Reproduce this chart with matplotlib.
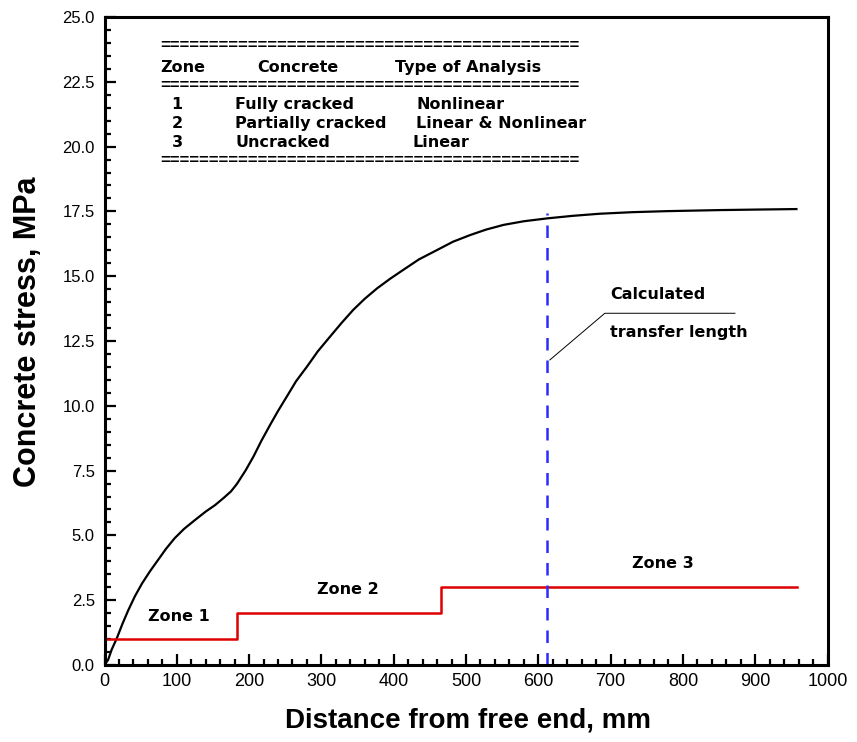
import matplotlib
matplotlib.use("Agg")
import matplotlib.pyplot as plt
from matplotlib.ticker import MultipleLocator, FormatStrFormatter

# Concrete stress along the member (mm, MPa)
dist_mm = [0, 5, 10, 17, 25, 33, 42, 52, 63, 74, 85, 97, 110, 125, 140,
           153, 165, 175, 183,
           195, 206, 217, 229, 240, 252, 265, 280, 295, 312, 328, 344, 360,
           377, 395, 413, 435, 460, 482, 506, 528, 552, 580, 612, 648, 685,
           730, 778, 850, 900, 957]
stress_mpa = [0.0, 0.2, 0.6, 1.03, 1.6, 2.12, 2.65, 3.15, 3.62, 4.05, 4.48,
              4.89, 5.25, 5.59, 5.92, 6.17, 6.45, 6.7, 6.98,
              7.5, 8.04, 8.65, 9.26, 9.8, 10.35, 10.95, 11.51, 12.1, 12.67,
              13.2, 13.70, 14.13, 14.53, 14.9, 15.24, 15.65, 16.01, 16.33,
              16.59, 16.8, 16.98, 17.12, 17.23, 17.33, 17.41, 17.47, 17.51,
              17.55, 17.57, 17.59]

# Zone boundaries and zone levels
zone_edges = [0, 183, 466, 958]
zone_levels = [1.0, 2.0, 3.0]
zone_names = ["Zone 1", "Zone 2", "Zone 3"]
zone_label_x = [103, 337, 772]
zone_label_y = [1.86, 2.93, 3.92]

transfer_length = 612

table_header = ["Zone", "Concrete", "Type of Analysis"]
table_rows = [("1", "Fully cracked", "Nonlinear"),
              ("2", "Partially cracked", "Linear & Nonlinear"),
              ("3", "Uncracked", "Linear")]

plt.rcParams["font.family"] = ["Liberation Sans", "DejaVu Sans"]

W, H = 857, 742
fig = plt.figure(figsize=(W / 100, H / 100), dpi=100)
ax = fig.add_axes([104.5 / W, 1 - 665 / H, 723 / W, 648 / H])

ax.plot(dist_mm, stress_mpa, color="black", lw=1.6, solid_joinstyle="round")

# Stepped zone levels
sx, sy = [], []
for i, lvl in enumerate(zone_levels):
    sx += [zone_edges[i], zone_edges[i + 1]]
    sy += [lvl, lvl]
ax.plot(sx, sy, color="#dd0000", lw=1.8)

ax.plot([transfer_length, transfer_length], [0, 17.45], color="#2b2bff",
        lw=1.8, dashes=(5, 4))

note_font = dict(family="DejaVu Sans", fontweight="bold", fontsize=11.5)
for name, x, y in zip(zone_names, zone_label_x, zone_label_y):
    ax.text(x, y, name, ha="center", va="center", **note_font)

# Leader for the transfer length note
ax.plot([616, 692, 872], [11.77, 13.57, 13.57], color="black", lw=0.7)
ax.text(699, 14.31, "Calculated", ha="left", va="center", **note_font)
ax.text(699, 12.81, "transfer length", ha="left", va="center", **note_font)

# Zone summary table, placed in figure pixels (baseline) from the top-left
def ftext(xp, yp, s, ha="left", **kw):
    fig.text(xp / W, 1 - yp / H, s, ha=ha, va="baseline", **kw)

tab_font = dict(family="DejaVu Sans", fontweight="bold", fontsize=11.5)
rule = "=" * 43
for yp in (50, 90, 165):
    ftext(160, yp, rule, family="Liberation Sans", fontweight="bold",
          fontsize=12)
for xp, s in zip((160, 257, 395), table_header):
    ftext(xp, 72, s, **tab_font)
row_y = [109, 128, 147]
for (a, b, c), yp in zip(table_rows, row_y):
    ftext(177, yp, a, ha="center", **tab_font)
    ftext(235, yp, b, **tab_font)
    ftext(416 if c != "Linear" else 412, yp, c, **tab_font)

ax.set_xlim(0, 1000)
ax.set_ylim(0, 25)
ax.xaxis.set_major_locator(MultipleLocator(100))
ax.xaxis.set_minor_locator(MultipleLocator(20))
ax.yaxis.set_major_locator(MultipleLocator(2.5))
ax.yaxis.set_minor_locator(MultipleLocator(0.5))
ax.yaxis.set_major_formatter(FormatStrFormatter("%.1f"))
ax.tick_params(which="both", direction="in", top=False, right=False,
               width=1.6, color="black")
ax.tick_params(which="major", length=8)
ax.tick_params(which="minor", length=4)
ax.tick_params(axis="y", labelsize=12, pad=7)
ax.tick_params(axis="x", labelsize=13, pad=6)
for sp in ax.spines.values():
    sp.set_linewidth(2.2)

ax.set_xlabel("Distance from free end, mm", fontsize=20, fontweight="bold",
              va="center")
ax.set_ylabel("Concrete stress, MPa", fontsize=22, fontweight="bold",
              va="center")
ax.xaxis.set_label_coords(0.503, -0.085)
ax.yaxis.set_label_coords(-0.106, 0.515)

fig.savefig("out.png", dpi=100)
